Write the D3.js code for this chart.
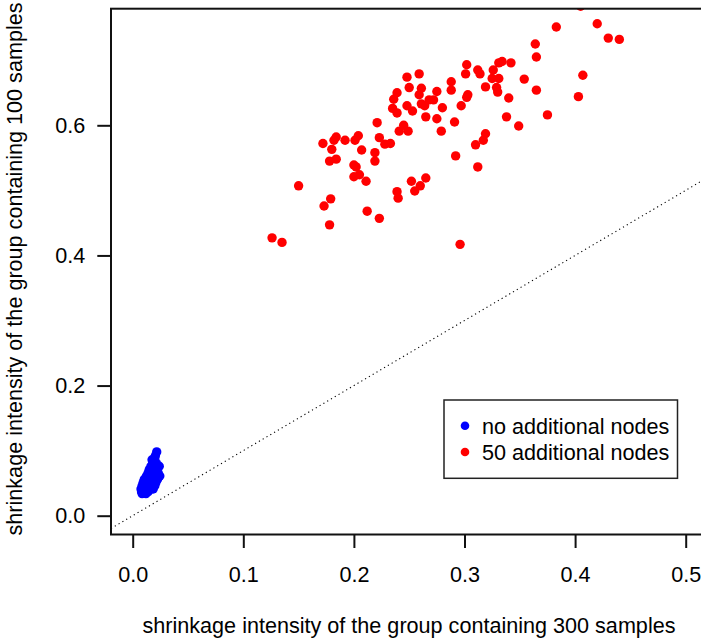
<!DOCTYPE html>
<html>
<head>
<meta charset="utf-8">
<script src="https://cdn.jsdelivr.net/npm/d3@7"></script>
<style>
  html, body { margin: 0; padding: 0; background: #fff; }
  svg { display: block; font-family: "Liberation Sans", Arial, sans-serif; }
</style>
</head>
<body>
<svg id="chart" width="701" height="641"></svg>
<script>
// Shrinkage intensity: group with 300 samples (x) vs group with 100 samples (y)

// 50 additional nodes
const redX = [0.126, 0.135, 0.150, 0.178, 0.173, 0.179, 0.212, 0.223, 0.172, 0.180,
  0.182, 0.184, 0.192, 0.201, 0.204, 0.207, 0.178, 0.184, 0.200, 0.202,
  0.200, 0.205, 0.211, 0.219, 0.219, 0.221, 0.223, 0.228, 0.233, 0.239,
  0.240, 0.252, 0.255, 0.260, 0.265, 0.241, 0.245, 0.249, 0.235, 0.239,
  0.236, 0.239, 0.248, 0.253, 0.248, 0.259, 0.250, 0.261, 0.259, 0.261,
  0.264, 0.268, 0.272, 0.275, 0.280, 0.265, 0.275, 0.279, 0.288, 0.288,
  0.405, 0.383, 0.420, 0.430, 0.440, 0.364, 0.365, 0.407, 0.403, 0.375,
  0.365, 0.354, 0.342, 0.334, 0.331, 0.326, 0.325, 0.331, 0.329, 0.330,
  0.319, 0.312, 0.314, 0.302, 0.301, 0.303, 0.302, 0.297, 0.291, 0.340,
  0.338, 0.349, 0.319, 0.317, 0.310, 0.292, 0.312, 0.296];
const redY = [0.427, 0.420, 0.507, 0.447, 0.476, 0.487, 0.468, 0.457, 0.572, 0.563,
  0.577, 0.582, 0.577, 0.577, 0.584, 0.562, 0.545, 0.548, 0.539, 0.536,
  0.521, 0.524, 0.514, 0.558, 0.545, 0.604, 0.581, 0.571, 0.572, 0.498,
  0.488, 0.514, 0.499, 0.507, 0.519, 0.591, 0.600, 0.591, 0.626, 0.619,
  0.640, 0.650, 0.630, 0.622, 0.674, 0.679, 0.658, 0.657, 0.647, 0.633,
  0.630, 0.639, 0.639, 0.652, 0.627, 0.613, 0.610, 0.591, 0.667, 0.654,
  0.783, 0.751, 0.756, 0.734, 0.732, 0.725, 0.705, 0.677, 0.644, 0.616,
  0.654, 0.671, 0.696, 0.698, 0.696, 0.685, 0.672, 0.672, 0.658, 0.651,
  0.659, 0.685, 0.679, 0.693, 0.679, 0.647, 0.643, 0.630, 0.605, 0.642,
  0.613, 0.599, 0.587, 0.577, 0.570, 0.553, 0.536, 0.417];

// no additional nodes
const blueX = [0.0217, 0.0205, 0.0175, 0.0200, 0.0180, 0.0215, 0.0165, 0.0200, 0.0240,
  0.0150, 0.0185, 0.0215, 0.0140, 0.0170, 0.0200, 0.0230,
  0.0125, 0.0155, 0.0185, 0.0215, 0.0245, 0.0105, 0.0135, 0.0165, 0.0195, 0.0225,
  0.0095, 0.0120, 0.0150, 0.0180, 0.0210, 0.0085, 0.0110, 0.0140, 0.0170, 0.0200,
  0.0075, 0.0100, 0.0130, 0.0160, 0.0185, 0.0080, 0.0110, 0.0140, 0.0085, 0.0120];
const blueY = [0.098, 0.092, 0.086, 0.086, 0.080, 0.080, 0.076, 0.076, 0.076,
  0.071, 0.071, 0.071, 0.066, 0.066, 0.066, 0.066,
  0.061, 0.061, 0.061, 0.061, 0.061, 0.056, 0.056, 0.056, 0.056, 0.056,
  0.051, 0.051, 0.051, 0.051, 0.051, 0.046, 0.046, 0.046, 0.046, 0.046,
  0.041, 0.041, 0.041, 0.041, 0.041, 0.037, 0.037, 0.037, 0.034, 0.034];

const xTicks = [0.0, 0.1, 0.2, 0.3, 0.4, 0.5];
const yTicks = [0.0, 0.2, 0.4, 0.6];
const legendLabels = ["no additional nodes", "50 additional nodes"];
const legendColors = ["#0000ff", "#ff0000"];
const xTitle = "shrinkage intensity of the group containing 300 samples";
const yTitle = "shrinkage intensity of the group containing 100 samples";

const svg = d3.select("#chart");
const FONT = 21.6;

// plot region (right edge runs past the canvas)
const plot = { left: 111, top: 8.7, right: 720, bottom: 534.5 };

const x = d3.scaleLinear().domain([0, 0.5]).range([132.7, 685.7]);
const y = d3.scaleLinear().domain([0, 0.6]).range([515.7, 125.3]);

svg.append("defs").append("clipPath").attr("id", "plotClip")
  .append("rect")
  .attr("x", plot.left).attr("y", plot.top)
  .attr("width", plot.right - plot.left).attr("height", plot.bottom - plot.top);

const inner = svg.append("g").attr("clip-path", "url(#plotClip)");

// identity line y = x
const lineDomain = [x.invert(plot.left), x.invert(plot.right)];
inner.append("line")
  .attr("x1", x(lineDomain[0])).attr("y1", y(lineDomain[0]))
  .attr("x2", x(lineDomain[1])).attr("y2", y(lineDomain[1]))
  .attr("stroke", "#000").attr("stroke-width", 1.1)
  .attr("stroke-dasharray", "1.2,3.2");

const blue = blueX.map((v, i) => [v, blueY[i]]);
const red = redX.map((v, i) => [v, redY[i]]);

inner.append("g").selectAll("circle").data(blue).join("circle")
  .attr("cx", d => x(d[0])).attr("cy", d => y(d[1])).attr("r", 4.7)
  .attr("fill", legendColors[0]);

inner.append("g").selectAll("circle").data(red).join("circle")
  .attr("cx", d => x(d[0])).attr("cy", d => y(d[1])).attr("r", 4.7)
  .attr("fill", legendColors[1]);

// frame
svg.append("rect")
  .attr("x", plot.left).attr("y", plot.top)
  .attr("width", plot.right - plot.left).attr("height", plot.bottom - plot.top)
  .attr("fill", "none").attr("stroke", "#111").attr("stroke-width", 2);

// axes
const xAxis = svg.append("g")
  .attr("transform", `translate(0,${plot.bottom})`)
  .call(d3.axisBottom(x).tickValues(xTicks).tickFormat(d3.format(".1f"))
    .tickSize(13.5).tickPadding(19));
xAxis.select(".domain").remove();
xAxis.selectAll("line").attr("stroke", "#111").attr("stroke-width", 2);
xAxis.selectAll("text").attr("font-size", FONT).attr("fill", "#000")
  .attr("font-family", "'Liberation Sans', Arial, sans-serif");

const yAxis = svg.append("g")
  .attr("transform", `translate(${plot.left},0)`)
  .call(d3.axisLeft(y).tickValues(yTicks).tickFormat(d3.format(".1f"))
    .tickSize(13.7).tickPadding(12));
yAxis.select(".domain").remove();
yAxis.selectAll("line").attr("stroke", "#111").attr("stroke-width", 2);
yAxis.selectAll("text").attr("font-size", FONT).attr("fill", "#000")
  .attr("font-family", "'Liberation Sans', Arial, sans-serif");

// titles
svg.append("text")
  .attr("x", 409).attr("y", 633)
  .attr("text-anchor", "middle").attr("font-size", FONT)
  .text(xTitle);

svg.append("text")
  .attr("transform", "translate(22,269) rotate(-90)")
  .attr("text-anchor", "middle").attr("font-size", FONT)
  .text(yTitle);

// legend
const legend = svg.append("g");
legend.append("rect")
  .attr("x", 444).attr("y", 400).attr("width", 233.5).attr("height", 78.3)
  .attr("fill", "#fff").attr("stroke", "#222").attr("stroke-width", 1.5);
legendLabels.forEach((lab, i) => {
  const cy = 425.7 + i * 26.3;
  legend.append("circle").attr("cx", 465).attr("cy", cy).attr("r", 4.3)
    .attr("fill", legendColors[i]);
  legend.append("text").attr("x", 482).attr("y", cy + 8.4)
    .attr("font-size", FONT).text(lab);
});
</script>
</body>
</html>
